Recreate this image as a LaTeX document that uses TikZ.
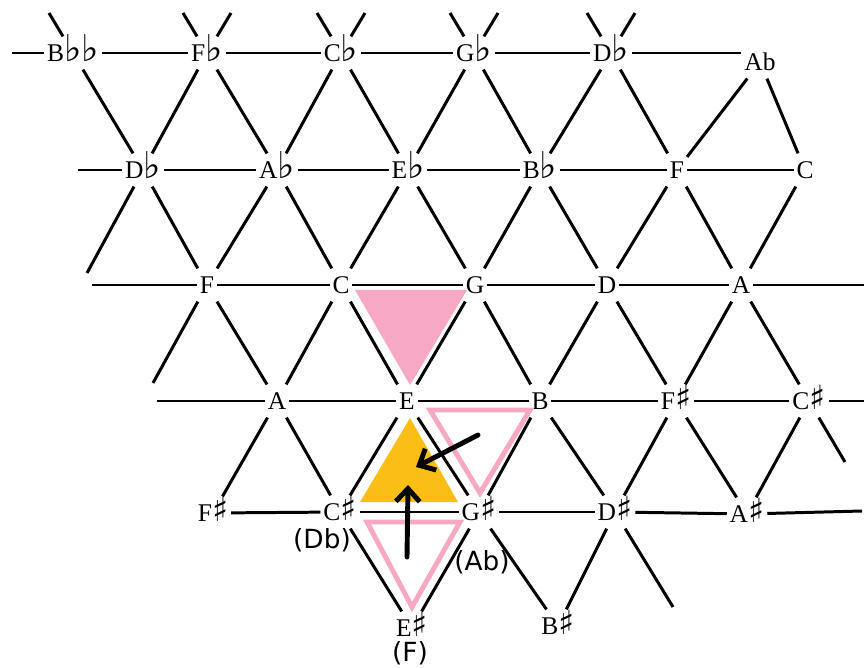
\documentclass[tikz,border=0pt]{standalone}
\usepackage{fontspec}
\setmainfont{Liberation Serif}
\newfontfamily\aliasfont{DejaVu Sans}
\newfontfamily\musicfont{DejaVu Sans}
\usepackage{tikz}
\usetikzlibrary{arrows.meta,positioning}
\definecolor{chordpink}{RGB}{247,168,196}
\definecolor{chordgold}{RGB}{250,190,20}
\newcommand{\fl}{{\musicfont\fontsize{21}{21}\selectfont ♭}}
\newcommand{\sh}{{\musicfont\fontsize{19}{19}\selectfont ♯}}

\begin{document}
\begin{tikzpicture}[x=0.02cm,y=-0.02cm,
  pitch/.style={font=\fontsize{14.5}{16}\selectfont,inner xsep=1.5pt,inner ysep=4.5pt,
    text height=9.5pt,text depth=0pt},
  enharm/.style={font=\aliasfont\fontsize{15}{17}\selectfont,inner sep=0pt},
  lat/.style={line width=1.7pt},
  motion/.style={line width=2.8pt,line cap=round,-{Straight Barb[length=2.6mm,width=4.8mm]}}]
  \useasboundingbox (0,0) rectangle (864,668);

  \node[pitch] (bbb) at (73,53) {B\fl\fl};
  \node[pitch] (fb0) at (207,53) {F\fl};
  \node[pitch] (cb0) at (341,53) {C\fl};
  \node[pitch] (gb0) at (474,53) {G\fl};
  \node[pitch] (db0) at (611,53) {D\fl};
  \node[pitch] (ab0) at (760,62) {Ab};

  \node[pitch] (db1) at (143,170) {D\fl};
  \node[pitch] (ab1) at (277,170) {A\fl};
  \node[pitch] (eb1) at (408,170) {E\fl};
  \node[pitch] (bb1) at (540,170) {B\fl};
  \node[pitch] (f1) at (677,170) {F};
  \node[pitch] (c1) at (805,170) {C};

  \node[pitch] (f2) at (207,285) {F};
  \node[pitch] (c2) at (341,285) {C};
  \node[pitch] (g2) at (475,285) {G};
  \node[pitch] (d2) at (607,285) {D};
  \node[pitch] (a2) at (741,285) {A};

  \node[pitch] (a3) at (277,401) {A};
  \node[pitch] (e3) at (407,401) {E};
  \node[pitch] (b3) at (540,401) {B};
  \node[pitch] (fs3) at (676,401) {F\sh};
  \node[pitch] (cs3) at (809,401) {C\sh};

  \node[pitch] (fs4) at (213,513) {F\sh};
  \node[pitch] (cs4) at (340,512) {C\sh};
  \node[pitch] (gs4) at (479,512) {G\sh};
  \node[pitch] (ds4) at (615,512) {D\sh};
  \node[pitch] (as4) at (747,514) {A\sh};

  \node[pitch] (es5) at (412,628) {E\sh};
  \node[pitch] (bs5) at (558,626) {B\sh};

  \node[enharm] (dbalt) at (322,540) {(Db)};
  \node[enharm] (abalt) at (482,562) {(Ab)};
  \node[enharm] (falt) at (410,653) {(F)};

  \coordinate (bbbnw) at (49,13);
  \coordinate (fb0nw) at (183,13);
  \coordinate (fb0ne) at (231,13);
  \coordinate (cb0nw) at (317,13);
  \coordinate (cb0ne) at (365,13);
  \coordinate (gb0nw) at (450,13);
  \coordinate (gb0ne) at (498,13);
  \coordinate (db0nw) at (587,13);
  \coordinate (db0ne) at (635,13);
  \coordinate (w0) at (12,53);
  \coordinate (w1) at (78,170);
  \coordinate (db1sw) at (87,273);
  \coordinate (w2) at (92,285);
  \coordinate (e2) at (864,285);
  \coordinate (f2sw) at (153,383);
  \coordinate (w3) at (157,401);
  \coordinate (e3r) at (864,401);
  \coordinate (cs3se) at (845,462);
  \coordinate (e4) at (862,511);
  \coordinate (ds4se) at (673,607);

  \foreach \a/\b in {bbb/fb0,fb0/cb0,cb0/gb0,gb0/db0,
      db1/ab1,ab1/eb1,eb1/bb1,bb1/f1,f1/c1,
      f2/c2,c2/g2,g2/d2,d2/a2,
      a3/e3,e3/b3,b3/fs3,fs3/cs3,
      fs4/cs4,cs4/gs4,gs4/ds4,ds4/as4}
    \draw[lat] (\a) -- (\b);
  \draw[lat] (db0) -- (db0 -| ab0.west);

  \foreach \a/\b in {bbb/db1,fb0/db1,fb0/ab1,cb0/ab1,cb0/eb1,gb0/eb1,gb0/bb1,
      db0/bb1,db0/f1,ab0/f1,ab0/c1,
      db1/f2,ab1/f2,ab1/c2,eb1/c2,eb1/g2,bb1/g2,bb1/d2,f1/d2,f1/a2,c1/a2,
      f2/a3,c2/a3,c2/e3,g2/e3,g2/b3,d2/b3,d2/fs3,a2/fs3,a2/cs3,
      a3/fs4,a3/cs4,e3/cs4,e3/gs4,b3/gs4,b3/ds4,fs3/ds4,fs3/as4,cs3/as4,
      cs4/es5,gs4/es5,gs4/bs5,ds4/bs5}
    \draw[lat] (\a) -- (\b);

  \foreach \a/\b in {bbb/bbbnw,fb0/fb0nw,fb0/fb0ne,cb0/cb0nw,cb0/cb0ne,
      gb0/gb0nw,gb0/gb0ne,db0/db0nw,db0/db0ne,
      bbb/w0,db1/w1,db1/db1sw,f2/w2,a2/e2,f2/f2sw,
      a3/w3,cs3/e3r,cs3/cs3se,as4/e4,ds4/ds4se}
    \draw[lat] (\a) -- (\b);

  \fill[chordpink] (355,290) -- (467,290) -- (410,385) -- cycle;
  \fill[chordgold] (410,418) -- (360,502) -- (458,502) -- cycle;
  \draw[chordpink,line width=2.8pt,line join=miter] (430,410) -- (530,410) -- (480,493) -- cycle;
  \draw[chordpink,line width=2.8pt,line join=miter] (367,522) -- (460,522) -- (412,607) -- cycle;

  \coordinate (pfrom) at (478,435);
  \coordinate (pto) at (416,467);
  \coordinate (lfrom) at (407,557);
  \coordinate (lto) at (408,485);
  \draw[motion] (pfrom) -- (pto);
  \draw[motion] (lfrom) -- (lto);
\end{tikzpicture}
\end{document}
